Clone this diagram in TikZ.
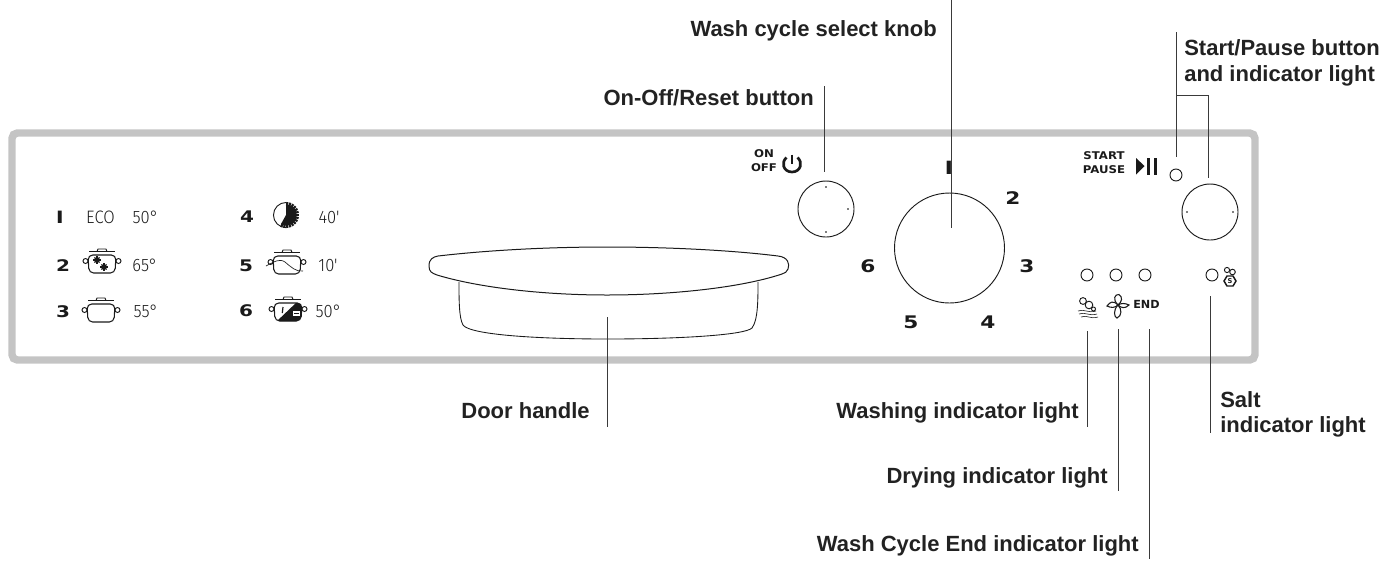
\documentclass[tikz,border=0pt]{standalone}
\usepackage{fontspec}
\setmainfont{Liberation Sans}
\newfontfamily\dinfont{Fira Sans Light}
\newfontfamily\squarefont{DejaVu Sans}
\definecolor{panelgrey}{HTML}{C4C4C4}
\definecolor{labelink}{HTML}{222222}
\definecolor{leaderink}{HTML}{3A3A3A}
\definecolor{iconink}{HTML}{1A1A1A}
\tikzset{
  x=0.75pt,y=-0.75pt,
  label text/.style={font=\fontsize{16.5pt}{18pt}\selectfont\bfseries,text=labelink,inner sep=0pt,anchor=base east},
  label west/.style={label text,anchor=base west},
  leader/.style={draw=leaderink,line width=0.75pt},
  knob/.style={circle,draw=iconink,line width=0.7pt,inner sep=0pt,minimum size=#1},
  led/.style={circle,draw=iconink,line width=0.7pt,inner sep=0pt,minimum size=9pt},
  dial digit/.style={font=\squarefont\bfseries\fontsize{13pt}{14pt}\selectfont,text=iconink,inner sep=0pt,xscale=1.25,transform shape},
  prog digit/.style={font=\squarefont\bfseries\fontsize{12pt}{13pt}\selectfont,text=iconink,inner sep=0pt,xscale=1.25,transform shape},
  din/.style={font=\dinfont\fontsize{13.5pt}{15pt}\selectfont,text=iconink,inner sep=0pt,xscale=0.92,transform shape},
  panel word/.style={font=\squarefont\bfseries\fontsize{#1}{9pt}\selectfont,text=iconink,inner sep=0pt,xscale=1.1,transform shape},
  bar digit/.style={font=\bfseries\fontsize{#1}{16pt}\selectfont,text=iconink,inner sep=0pt,xscale=1.5,transform shape},
  tinydot/.style={fill=gray,draw=none},
  pics/pot/.style={code={
    \draw[iconink,line width=0.8pt,rounded corners=3.5pt] (-14,-9) -- (14,-9) -- (13,9) -- (-13,9) -- cycle;
    \draw[iconink,line width=0.7pt,fill=white] (-16.5,-3) circle[radius=2.5];
    \draw[iconink,line width=0.7pt,fill=white] (16.5,-3) circle[radius=2.5];
    \draw[iconink,line width=1pt] (-13,-12.5) -- (13,-12.5);
    \draw[iconink,line width=0.7pt] (-5,-12.5) -- (-4,-15) -- (4,-15) -- (5,-12.5);
  }},
}
\newcommand{\starmark}[2]{%
  \foreach \ang in {0,45,...,315}{\draw[iconink,line width=0.9pt] (#1,#2) -- +(\ang:3.6);}%
}
\begin{document}
\begin{tikzpicture}
\useasboundingbox (0,0) rectangle (1390,562);
% panel
\draw[panelgrey,line width=5.6pt,rounded corners=4pt] (12,133) rectangle (1255,360);

% programme digits
\node[bar digit=13.5pt] (p1) at (60,217) {I};
\node[prog digit] (p2) at (63,265.5) {2};
\node[prog digit] (p3) at (63,312) {3};
\node[prog digit] (p4) at (247,217) {4};
\node[prog digit] (p5) at (246,265.5) {5};
\node[prog digit] (p6) at (246,311) {6};
% programme values
\node[din] (eco) at (100.5,217) {ECO};
\node[din] (t1) at (145.5,217) {50°};
\node[din] (t2) at (145,265) {65°};
\node[din] (t3) at (146,311) {55°};
\node[din] (t4) at (329,217) {40'};
\node[din] (t5) at (328,265) {10'};
\node[din] (t6) at (328.5,311) {50°};

% pots
\pic at (102,264) {pot};
\starmark{97}{260}\starmark{104}{267}
\pic at (101,313) {pot};
\pic at (287,265) {pot};
\draw[iconink,line width=0.5pt] (266,266) .. controls (274,262) and (279,258) .. (285,262) .. controls (291,267) and (296,272) .. (303,271);
\pic at (288,312) {pot};
\begin{scope}
  \clip (276,322) -- (297,302) -- (304,302) -- (304,323) -- cycle;
  \fill[iconink,rounded corners=3.5pt] (274,303) -- (302,303) -- (301,321) -- (275,321) -- cycle;
\end{scope}
\draw[iconink,line width=0.9pt] (283,307) -- (282.3,313);
\fill[white] (293,311) rectangle (300,316);
\draw[iconink,line width=0.5pt] (294,313) -- (299,313);
% clock
\coordinate (clockc) at (286,215);
\draw[iconink,line width=0.7pt] (clockc) ++(-90:12.5) arc[start angle=90,end angle=270,radius=9.4pt];
\fill[iconink] (clockc) -- plot[domain=-90:119,samples=40] ({286+10.5*cos(\x)},{215+10.5*sin(\x)}) -- cycle;
\foreach \ang in {-84,-70,...,112}{\draw[iconink,line width=1.6pt] (clockc) ++(\ang:9.5) -- ++(\ang:3.5);}

% door handle
\draw[iconink,line width=0.75pt] (438,256) .. controls (490,250) and (550,247) .. (607,247)
  .. controls (665,247) and (730,250) .. (778,256)
  .. controls (788,257) and (790,264) .. (788,269)
  .. controls (787,272) and (785,273) .. (782,274)
  .. controls (740,288) and (670,295) .. (607,295)
  .. controls (545,295) and (480,288) .. (437,275)
  .. controls (432,273) and (429,272) .. (429,266)
  .. controls (429,259) and (433,257) .. (438,256) -- cycle;
\draw[iconink,line width=0.65pt] (459,282) .. controls (459,300) and (459,318) .. (463,325)
  .. controls (470,335) and (540,339) .. (607,339)
  .. controls (680,339) and (745,335) .. (752,328)
  .. controls (758,320) and (758,300) .. (758,282);

% knobs
\node[knob=42pt] (onoff) at (826,209) {};
\node[knob=82.5pt] (dial) at (949.5,248) {};
\node[knob=42pt] (startknob) at (1210,212) {};
\foreach \dx/\dy in {826/187,848/209,826/232,1187/212,1233/212}{\fill[tinydot] (\dx-0.6,\dy-0.6) rectangle (\dx+0.6,\dy+0.6);}

% dial digits
\node[bar digit=14.5pt] (d1) at (949,167.5) {I};
\node[dial digit] (d2) at (1013,198) {2};
\node[dial digit] (d3) at (1027,266) {3};
\node[dial digit] (d4) at (988,322) {4};
\node[dial digit] (d5) at (911,322) {5};
\node[dial digit] (d6) at (868,266) {6};

% on-off
\node[panel word=8pt] (on) at (764,154) {ON};
\node[panel word=8pt] (off) at (764,168) {OFF};
\draw[iconink,line width=2pt] (786.5,157.5) .. controls (781,162) and (783,172) .. (792,172) .. controls (801,172) and (803,162) .. (797.5,157.5);
\draw[iconink,line width=2pt] (792,154.5) -- (792,164);

% start pause
\node[panel word=8pt] (startw) at (1104,156) {START};
\node[panel word=8pt] (pausew) at (1104,170) {PAUSE};
\fill[iconink] (1136,158) -- (1144.5,166) -- (1136,174.5) -- cycle;
\fill[iconink] (1147,157.5) rectangle (1150,174.5);
\fill[iconink] (1154,157.5) rectangle (1157,174.5);

% LEDs
\node[led] (startled) at (1176,175) {};
\node[led] (washled) at (1087,275) {};
\node[led] (dryled) at (1116,275) {};
\node[led] (endled) at (1145,275) {};
\node[led] (saltled) at (1212,275) {};

% salt icon
\draw[iconink,line width=0.7pt] (1227,270) circle[radius=2.6];
\draw[iconink,line width=0.7pt] (1232.5,272) circle[radius=2.8];
\draw[iconink,line width=1.1pt] (1224,281) -- (1227,276) -- (1233,276) -- (1236,281) -- (1233,286) -- (1227,286) -- cycle;
\node[font=\squarefont\bfseries\fontsize{5pt}{6pt}\selectfont,text=iconink,inner sep=0pt] (salts) at (1230,281) {S};

% washing icon
\draw[iconink,line width=0.7pt] (1083,301) circle[radius=3.4];
\draw[iconink,line width=0.7pt] (1089,305) circle[radius=3.8];
\draw[iconink,line width=0.7pt] (1093.5,309) circle[radius=2];
\foreach \wy/\wa/\wb in {311/1078/1096,314/1079/1097,317/1081/1098}{
  \draw[iconink,line width=0.45pt] (\wa,\wy) .. controls (\wa+6,\wy-2.5) and (\wb-8,\wy+2.5) .. (\wb,\wy);
}

% fan
\coordinate (fanc) at (1118,305);
\draw[iconink,line width=0.8pt] (fanc) .. controls (1112,299) and (1115,294) .. (1119,294.5) .. controls (1123,297) and (1122,302) .. (fanc);
\draw[iconink,line width=0.8pt] (fanc) .. controls (1113,310) and (1114,317) .. (1117,318) .. controls (1122,316) and (1122,309) .. (fanc);
\draw[iconink,line width=0.8pt] (fanc) .. controls (1113,300) and (1110,302) .. (1107,306) .. controls (1111,308) and (1115,308) .. (fanc);
\draw[iconink,line width=0.8pt] (fanc) .. controls (1121,308) and (1125,309) .. (1129,305) .. controls (1125,303) and (1121,303) .. (fanc);
\node[font=\squarefont\bfseries\fontsize{8.4pt}{9pt}\selectfont,text=iconink,inner sep=0pt] (endw) at (1146.5,304) {END};

% labels
\node[label text] (lwash) at (937,36) {Wash cycle select knob};
\node[label text] (lonoff) at (814,105) {On-Off/Reset button};
\node[label west] (lstart) at (1184,55) {Start/Pause button};
\node[label west] (lstart2) at (1184,81) {and indicator light};
\node[label text] (ldoor) at (590,418) {Door handle};
\node[label text] (lwashing) at (1079,418) {Washing indicator light};
\node[label text] (ldry) at (1108,483) {Drying indicator light};
\node[label text] (lend) at (1139,551) {Wash Cycle End indicator light};
\node[label west] (lsalt) at (1220,407) {Salt};
\node[label west] (lsalt2) at (1220,432) {indicator light};

% leader ends
\coordinate (wt) at (951,0);   \coordinate (wb) at (951,228);
\coordinate (ot) at (824,86);  \coordinate (ob) at (824,172);
\coordinate (st) at (1176,32); \coordinate (sb) at (1176,157);
\coordinate (sj) at (1176,95); \coordinate (sk) at (1208,95); \coordinate (se) at (1208,178);
\coordinate (dt) at (607,317); \coordinate (db) at (607,427);
\coordinate (wat) at (1087,331); \coordinate (wab) at (1087,427);
\coordinate (drt) at (1118,329); \coordinate (drb) at (1118,491);
\coordinate (ent) at (1149,329); \coordinate (enb) at (1149,559);
\coordinate (sat) at (1210,296); \coordinate (sab) at (1210,433);
\draw[leader] (wt) -- (wb);
\draw[leader] (ot) -- (ob);
\draw[leader] (st) -- (sb);
\draw[leader] (sj) -- (sk) -- (se);
\draw[leader] (dt) -- (db);
\draw[leader] (wat) -- (wab);
\draw[leader] (drt) -- (drb);
\draw[leader] (ent) -- (enb);
\draw[leader] (sat) -- (sab);
\end{tikzpicture}
\end{document}
